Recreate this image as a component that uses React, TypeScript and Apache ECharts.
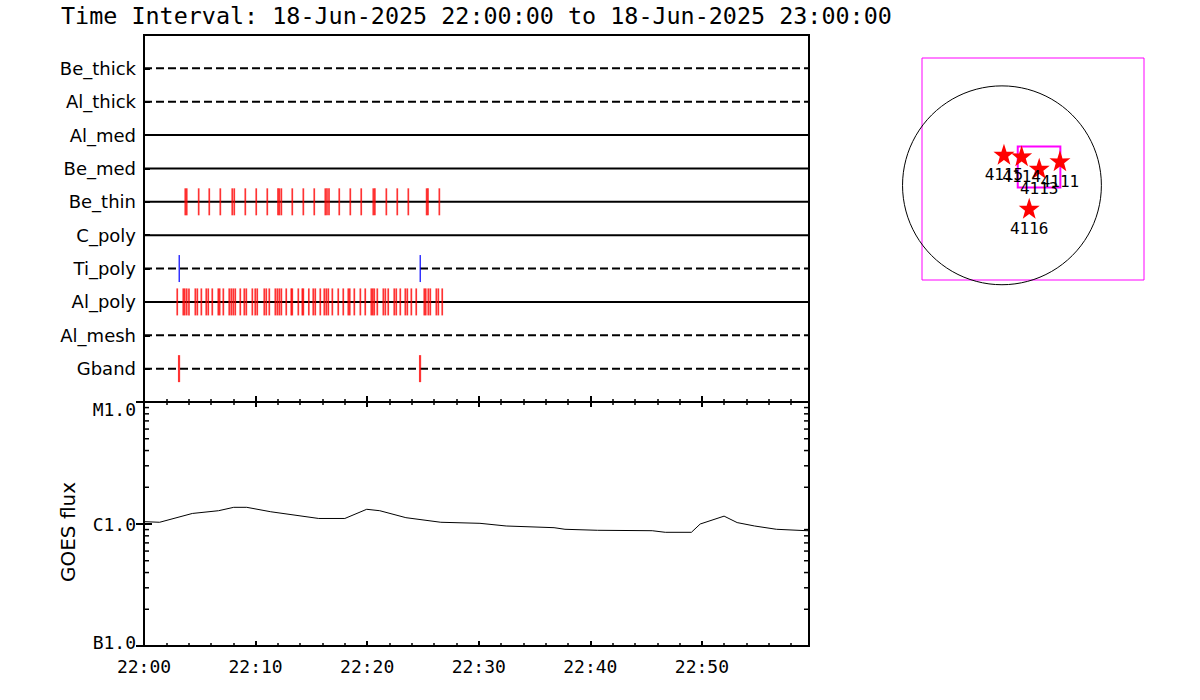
import React, { useEffect, useRef } from "react";
import * as echarts from "echarts";

// ---------- data ----------
const TITLE = "Time Interval: 18-Jun-2025 22:00:00 to 18-Jun-2025 23:00:00";
const X_MIN = 0; // minutes after 22:00
const X_MAX = 59.6;
const timeTickLabels = ["22:00", "22:10", "22:20", "22:30", "22:40", "22:50"];

// rows, bottom (1) to top (10)
const rowNames = ["Gband", "Al_mesh", "Al_poly", "Ti_poly", "C_poly", "Be_thin", "Be_med", "Al_med", "Al_thick", "Be_thick"];
const rowDashed = [true, true, false, true, false, false, false, false, true, true];

const beThinTimes = [3.70, 3.83, 4.90, 5.85, 6.84, 7.91, 8.09, 9.08, 10.06, 11.05, 12.01, 12.13, 12.31, 13.29, 14.28, 15.26, 16.25, 16.40, 16.58, 17.50, 18.49, 19.47, 20.55, 20.69, 21.72, 22.70, 23.69, 25.33, 25.45, 26.47];
const alPolyTimes = [2.98, 3.52, 3.65, 3.83, 4.03, 4.60, 4.78, 5.14, 5.58, 5.76, 6.12, 6.66, 6.78, 7.11, 7.64, 7.82, 8.00, 8.18, 8.63, 8.99, 9.17, 9.71, 9.97, 10.15, 10.78, 10.96, 11.23, 11.77, 11.95, 12.13, 12.31, 12.75, 13.20, 13.29, 13.83, 14.19, 14.28, 14.77, 15.17, 15.35, 15.80, 16.16, 16.34, 16.52, 16.88, 17.41, 17.86, 18.31, 18.44, 18.85, 19.39, 19.83, 20.37, 20.50, 20.64, 20.91, 21.45, 21.63, 21.89, 22.43, 22.61, 22.97, 23.42, 23.60, 23.96, 24.40, 25.12, 25.25, 25.48, 25.66, 26.20, 26.38, 26.73];
const tiPolyTimes = [3.16, 24.76];
const gbandTimes = [3.14, 24.74];

const goesTimes = [0, 1.4, 4.33, 6.68, 8.04, 9.21, 11.36, 15.66, 18.0, 19.96, 21.13, 23.47, 26.6, 30.11, 32.46, 36.75, 37.73, 40.66, 45.55, 46.72, 49.06, 49.85, 51.99, 53.16, 54.72, 56.68, 59.41, 59.6];
const goesFlux = [1.045e-6, 1.033e-6, 1.22e-6, 1.285e-6, 1.37e-6, 1.37e-6, 1.26e-6, 1.11e-6, 1.11e-6, 1.32e-6, 1.285e-6, 1.127e-6, 1.033e-6, 1.013e-6, 0.963e-6, 0.933e-6, 0.905e-6, 0.888e-6, 0.881e-6, 0.855e-6, 0.855e-6, 1.0e-6, 1.16e-6, 1.027e-6, 0.963e-6, 0.905e-6, 0.881e-6, 0.881e-6];
const goesMin = 1e-7;
const goesMax = 1e-5;
const goesClassLabels: Record<string, string> = { "-7": "B1.0", "-6": "C1.0", "-5": "M1.0" };
const goesMinorTicks = [2e-7, 3e-7, 4e-7, 5e-7, 6e-7, 7e-7, 8e-7, 9e-7, 2e-6, 3e-6, 4e-6, 5e-6, 6e-6, 7e-6, 8e-6, 9e-6];

// solar map (arcsec)
const arNumbers = ["4115", "4114", "4113", "4111", "4116"];
const arX = [19, 187, 354, 551, 259];
const arY = [296, 280, 163, 233, -217];
const solarRadius = 945;
const fovX = [150, 555];
const fovY = [-20, 370];
const mapX = [-760, 1350];
const mapY = [-900, 1210];

// ---------- styles ----------
const MONO = "'DejaVu Sans Mono', monospace";
const SANS = "'DejaVu Sans', sans-serif";
const STAR = "path://M50,0 L61.8,35.1 L98.1,34.5 L69.1,56.3 L79.4,90.5 L50,70 L20.6,90.5 L30.9,56.3 L1.9,34.5 L38.2,35.1 Z";

function rowOf(name: string) {
  return rowNames.indexOf(name) + 1;
}

function buildOption() {
  const rowLines = rowNames.map((name, i) => ({
    type: "line",
    name,
    xAxisIndex: 0,
    yAxisIndex: 0,
    data: [[X_MIN, i + 1], [X_MAX, i + 1]],
    symbol: "none",
    silent: true,
    lineStyle: { color: "#000", width: 2, type: rowDashed[i] ? [8, 4] : "solid" },
    z: 2,
  }));

  const tickSeries = (times: number[], row: string, color: string, w: number) => ({
    type: "scatter",
    xAxisIndex: 0,
    yAxisIndex: 0,
    data: times.map((t) => [t, rowOf(row)]),
    symbol: "rect",
    symbolSize: [w, 27],
    itemStyle: { color },
    silent: true,
    z: 3,
  });

  const timeLabel = (v: number) => {
    const idx = Math.round(v / 10);
    if (Math.abs(v - idx * 10) > 1e-6) return "";
    return timeTickLabels[idx] ?? "";
  };

  return {
    animation: false,
    backgroundColor: "#fff",
    title: {
      text: TITLE,
      left: 61,
      top: 4,
      padding: 0,
      textStyle: { fontFamily: MONO, fontSize: 23.4, fontWeight: "normal", color: "#000" },
    },
    grid: [
      { left: 144, top: 35, width: 665, height: 367, show: true, borderColor: "#000", borderWidth: 2 },
      { left: 144, top: 402, width: 665, height: 244, show: true, borderColor: "#000", borderWidth: 2 },
      { left: 922, top: 58, width: 222, height: 222, show: true, borderColor: "#ff00ff", borderWidth: 1 },
    ],
    xAxis: [
      {
        type: "value", gridIndex: 0, min: X_MIN, max: X_MAX, interval: 10,
        axisLine: { show: true, lineStyle: { color: "#000", width: 2 } },
        axisTick: { show: true, inside: true, length: 6, lineStyle: { color: "#000", width: 2 } },
        minorTick: { show: true, splitNumber: 5, length: 3, lineStyle: { color: "#000", width: 1.5 } },
        axisLabel: { show: false },
        splitLine: { show: false },
      },
      {
        type: "value", gridIndex: 1, min: X_MIN, max: X_MAX, interval: 10,
        axisLine: { show: true, lineStyle: { color: "#000", width: 2 } },
        axisTick: { show: true, inside: true, length: 5, lineStyle: { color: "#000", width: 2 } },
        minorTick: { show: true, splitNumber: 5, length: 3, lineStyle: { color: "#000", width: 1.5 } },
        axisLabel: {
          show: true, margin: 11, showMaxLabel: false, formatter: timeLabel,
          fontFamily: MONO, fontSize: 18, color: "#000",
        },
        splitLine: { show: false },
      },
      {
        type: "value", gridIndex: 1, position: "top", min: X_MIN, max: X_MAX, interval: 10,
        axisLine: { show: true, lineStyle: { color: "#000", width: 2 } },
        axisTick: { show: true, inside: true, length: 5, lineStyle: { color: "#000", width: 2 } },
        minorTick: { show: true, splitNumber: 5, length: 3, lineStyle: { color: "#000", width: 1.5 } },
        axisLabel: { show: false },
        splitLine: { show: false },
      },
      { type: "value", gridIndex: 2, min: mapX[0], max: mapX[1], show: false, splitLine: { show: false } },
    ],
    yAxis: [
      {
        type: "value", gridIndex: 0, min: 0, max: rowNames.length + 1, interval: 1,
        axisLine: { show: true, lineStyle: { color: "#000", width: 2 } },
        axisTick: { show: true, inside: true, length: 6, lineStyle: { color: "#000", width: 2 } },
        axisLabel: {
          show: true, margin: 8, fontFamily: SANS, fontSize: 18, color: "#000",
          formatter: (v: number) => rowNames[v - 1] ?? "",
        },
        splitLine: { show: false },
      },
      {
        type: "log", gridIndex: 1, min: goesMin, max: goesMax, logBase: 10, splitNumber: 2,
        name: "GOES flux", nameLocation: "middle", nameRotate: 90, nameGap: 66,
        nameTextStyle: { fontFamily: SANS, fontSize: 20, color: "#000", padding: [0, 16, 0, 0] },
        axisLine: { show: true, lineStyle: { color: "#000", width: 2 } },
        axisTick: { show: true, inside: true, length: 8, lineStyle: { color: "#000", width: 2 } },
        axisLabel: {
          show: true, margin: 8, fontFamily: MONO, fontSize: 18, color: "#000",
          formatter: (v: number) => {
            const e = Math.round(Math.log10(v));
            const s = goesClassLabels[String(e)] ?? "";
            if (e === -5) return "{top|" + s + "}";
            if (e === -7) return "{bot|" + s + "}";
            return s;
          },
          rich: {
            top: { fontFamily: MONO, fontSize: 18, color: "#000", padding: [14, 0, 0, 0] },
            bot: { fontFamily: MONO, fontSize: 18, color: "#000", padding: [0, 0, 8, 0] },
          },
        },
        splitLine: { show: false },
      },
      {
        type: "log", gridIndex: 1, position: "right", min: goesMin, max: goesMax, logBase: 10, splitNumber: 2,
        axisLine: { show: true, lineStyle: { color: "#000", width: 2 } },
        axisTick: { show: true, inside: true, length: 8, lineStyle: { color: "#000", width: 2 } },
        axisLabel: { show: false },
        splitLine: { show: false },
      },
      { type: "value", gridIndex: 2, min: mapY[0], max: mapY[1], show: false, splitLine: { show: false } },
    ],
    series: [
      ...rowLines,
      tickSeries(beThinTimes, "Be_thin", "#ff0000", 1.7),
      tickSeries(alPolyTimes, "Al_poly", "#ff0000", 1.7),
      tickSeries(tiPolyTimes, "Ti_poly", "#0000ff", 1.5),
      tickSeries(gbandTimes, "Gband", "#ff0000", 2.2),
      {
        type: "line",
        xAxisIndex: 1,
        yAxisIndex: 1,
        data: goesTimes.map((t, i) => [t, goesFlux[i]]),
        symbol: "none",
        silent: true,
        lineStyle: { color: "#000", width: 1 },
        z: 3,
      },
      {
        type: "custom",
        xAxisIndex: 1,
        yAxisIndex: 1,
        data: goesMinorTicks.map((v) => [X_MIN, v]),
        encode: { x: 0, y: 1 },
        silent: true,
        clip: false,
        renderItem: (_p: any, api: any) => {
          const v = api.value(1);
          const l = api.coord([X_MIN, v]);
          const r = api.coord([X_MAX, v]);
          return {
            type: "group",
            children: [
              { type: "line", shape: { x1: l[0], y1: l[1], x2: l[0] + 5, y2: l[1] }, style: { stroke: "#000", lineWidth: 1.5 } },
              { type: "line", shape: { x1: r[0] - 5, y1: r[1], x2: r[0], y2: r[1] }, style: { stroke: "#000", lineWidth: 1.5 } },
            ],
          };
        },
      },
      {
        type: "custom",
        xAxisIndex: 3,
        yAxisIndex: 3,
        data: [[0, 0, solarRadius]],
        encode: { x: 0, y: 1 },
        silent: true,
        clip: false,
        renderItem: (_p: any, api: any) => {
          const c = api.coord([api.value(0), api.value(1)]);
          const r = api.size([api.value(2), 0])[0];
          return { type: "circle", shape: { cx: c[0], cy: c[1], r }, style: { fill: "none", stroke: "#000", lineWidth: 1 } };
        },
        z: 2,
      },
      {
        type: "custom",
        xAxisIndex: 3,
        yAxisIndex: 3,
        data: [[fovX[0], fovY[0], fovX[1], fovY[1]]],
        encode: { x: [0, 2], y: [1, 3] },
        silent: true,
        clip: false,
        renderItem: (_p: any, api: any) => {
          const p1 = api.coord([api.value(0), api.value(3)]);
          const p2 = api.coord([api.value(2), api.value(1)]);
          return {
            type: "rect",
            shape: { x: p1[0], y: p1[1], width: p2[0] - p1[0], height: p2[1] - p1[1] },
            style: { fill: "none", stroke: "#ff00ff", lineWidth: 2 },
          };
        },
        z: 3,
      },
      {
        type: "scatter",
        xAxisIndex: 3,
        yAxisIndex: 3,
        data: arX.map((x, i) => ({ value: [x, arY[i]], name: arNumbers[i] })),
        symbol: STAR,
        symbolSize: 21,
        itemStyle: { color: "#ff0000", opacity: 1 },
        silent: true,
        label: {
          show: true,
          position: "bottom",
          distance: 2,
          formatter: (p: any) => p.name,
          fontFamily: MONO,
          fontSize: 16,
          color: "#000",
        },
        z: 4,
      },
    ],
  };
}

export default function App() {
  const ref = useRef<HTMLDivElement>(null);
  useEffect(() => {
    if (!ref.current) return;
    const chart = echarts.init(ref.current, null, { renderer: "svg" });
    chart.setOption(buildOption() as any);
    return () => chart.dispose();
  }, []);
  return (
    <div
      ref={ref}
      style={{ position: "absolute", left: 0, top: 0, width: 1200, height: 700, background: "#fff" }}
    />
  );
}
